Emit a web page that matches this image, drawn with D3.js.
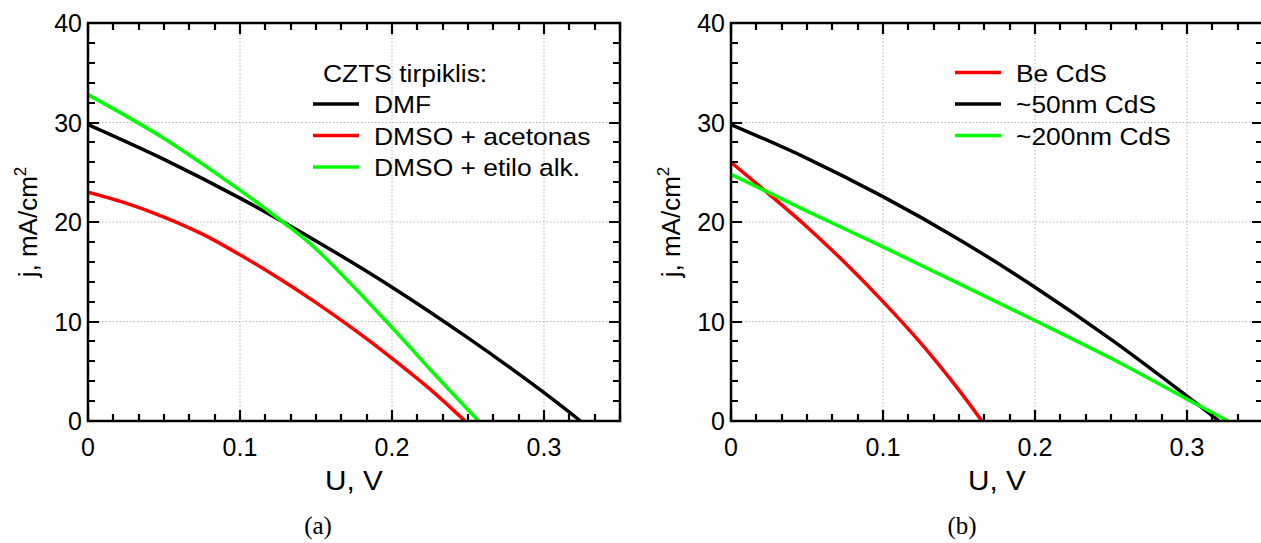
<!DOCTYPE html>
<html>
<head>
<meta charset="utf-8">
<script src="https://cdn.jsdelivr.net/npm/d3@7"></script>
<style>
  html, body { margin: 0; padding: 0; background: #fff; }
  svg { display: block; }
  text { font-family: "Liberation Sans", Arial, sans-serif; fill: #000; }
  .caption { font-family: "Liberation Serif", "Times New Roman", serif; }
</style>
</head>
<body>
<svg id="chart" width="1261" height="543"></svg>
<script>
// Current density j (mA/cm²) against voltage U (V)

// Panel (a): CZTS solvent
const voltsA_DMF  = [0, 0.05, 0.1, 0.15, 0.2, 0.25, 0.3, 0.324];
const currA_DMF   = [29.8, 26.3, 22.4, 18.1, 13.45, 8.35, 2.85, 0];
const voltsA_Acet = [0, 0.025, 0.05, 0.075, 0.1, 0.125, 0.15, 0.175, 0.2, 0.225, 0.248];
const currA_Acet  = [23.0, 21.9, 20.5, 18.8, 16.7, 14.4, 11.9, 9.2, 6.3, 3.2, 0];
const voltsA_Eth  = [0, 0.05, 0.1, 0.129, 0.15, 0.2, 0.225, 0.257];
const currA_Eth   = [32.8, 28.4, 23.2, 19.9, 17.3, 9.4, 5.2, 0];

// Panel (b): CdS layer
const voltsB_None = [0, 0.025, 0.05, 0.075, 0.1, 0.125, 0.15, 0.165];
const currB_None  = [26.0, 22.8, 19.5, 15.9, 12.0, 7.8, 3.1, 0];
const voltsB_50   = [0, 0.05, 0.1, 0.15, 0.2, 0.25, 0.3, 0.321];
const currB_50    = [29.8, 26.4, 22.55, 18.25, 13.45, 8.2, 2.5, 0];
const voltsB_200  = [0, 0.05, 0.1, 0.15, 0.2, 0.25, 0.3, 0.327];
const currB_200   = [24.8, 21.1, 17.5, 13.8, 10.1, 6.3, 2.2, 0];

const legendTitleA = "CZTS tirpiklis:";
const labelsA = ["DMF", "DMSO + acetonas", "DMSO + etilo alk."];
const labelsB = ["Be CdS", "~50nm CdS", "~200nm CdS"];

const xTicks = [0, 0.1, 0.2, 0.3];
const yTicks = [0, 10, 20, 30, 40];
const xMinorStep = 0.1 / 6;
const yMinorStep = 2;
const xDomain = [0, 0.35];
const yDomain = [0, 40];

const BLACK = "#000000", RED = "#ff0000", GREEN = "#00ff00";

const svg = d3.select("#chart");

function zip(xs, ys) { return xs.map((x, i) => ({ u: x, j: ys[i] })); }

function drawPanel(cfg) {
  const x = d3.scaleLinear().domain(xDomain).range([cfg.left, cfg.left + 532]);
  const y = d3.scaleLinear().domain(yDomain).range([421, 23]);
  const g = svg.append("g");
  const [x0, x1] = x.range();
  const [y0, y1] = y.range();

  // dotted grid at major ticks
  const grid = g.append("g").attr("stroke", "#b5b5b5").attr("stroke-width", 1)
    .attr("stroke-dasharray", "1.5,2");
  xTicks.filter(t => t > 0).forEach(t => {
    grid.append("line").attr("x1", x(t)).attr("x2", x(t)).attr("y1", y0).attr("y2", y1);
  });
  yTicks.filter(t => t > 0 && t < 40).forEach(t => {
    grid.append("line").attr("x1", x0).attr("x2", x1).attr("y1", y(t)).attr("y2", y(t));
  });

  // curves
  const line = d3.line().x(d => x(d.u)).y(d => y(d.j)).curve(d3.curveCatmullRom.alpha(0.5));
  const clipId = "clip" + cfg.id;
  g.append("clipPath").attr("id", clipId).append("rect")
    .attr("x", x0).attr("y", y1).attr("width", x1 - x0).attr("height", y0 - y1 + 2);
  const curves = g.append("g").attr("clip-path", `url(#${clipId})`);
  cfg.series.forEach(s => {
    curves.append("path").datum(zip(s.u, s.j)).attr("d", line)
      .attr("fill", "none").attr("stroke", s.color).attr("stroke-width", 3.5)
      .attr("stroke-linejoin", "round");
  });

  // frame
  g.append("rect").attr("x", x0).attr("y", y1).attr("width", x1 - x0).attr("height", y0 - y1)
    .attr("fill", "none").attr("stroke", "#000").attr("stroke-width", 2.5);

  // inward ticks on all four sides, drawn as one path
  const minorX = d3.range(0, xDomain[1] + 1e-9, xMinorStep);
  const minorY = d3.range(0, yDomain[1] + 1e-9, yMinorStep);
  const isMajorX = v => xTicks.some(t => Math.abs(t - v) < 1e-6);
  const isMajorY = v => yTicks.some(t => Math.abs(t - v) < 1e-6);
  const p = d3.path();
  minorX.forEach(v => {
    const len = isMajorX(v) ? 11 : 7;
    const px = Math.round(x(v));
    p.moveTo(px, y0); p.lineTo(px, y0 - len);
    p.moveTo(px, y1); p.lineTo(px, y1 + len);
  });
  minorY.forEach(v => {
    const len = isMajorY(v) ? 11 : 7;
    const py = Math.round(y(v));
    p.moveTo(x0, py); p.lineTo(x0 + len, py);
    p.moveTo(x1, py); p.lineTo(x1 - len, py);
  });
  g.append("path").attr("d", p.toString()).attr("fill", "none")
    .attr("stroke", "#000").attr("stroke-width", 2.2);

  // tick labels
  const fmtX = d => d === 0 ? "0" : d3.format(".1f")(d);
  g.append("g").selectAll("text").data(xTicks).join("text")
    .attr("x", d => x(d)).attr("y", y0 + 35).attr("text-anchor", "middle")
    .attr("font-size", 25).text(fmtX);
  g.append("g").selectAll("text").data(yTicks).join("text")
    .attr("x", x0 - 6).attr("y", d => y(d) + 9).attr("text-anchor", "end")
    .attr("font-size", 25).text(d3.format("d"));

  // axis titles
  g.append("text").attr("x", (x0 + x1) / 2).attr("y", 490).attr("text-anchor", "middle")
    .attr("font-size", 27).attr("transform", `translate(${(x0 + x1) / 2},0) scale(1.1,1) translate(${-(x0 + x1) / 2},0)`)
    .text("U, V");
  const yt = g.append("text").attr("transform", `translate(${x0 - 51},${(y0 + y1) / 2}) rotate(-90)`)
    .attr("text-anchor", "middle").attr("font-size", 26);
  yt.append("tspan").text("j, mA/cm");
  yt.append("tspan").attr("font-size", 17).attr("dy", -11).text("2");

  // caption
  svg.append("text").attr("class", "caption").attr("x", cfg.captionX).attr("y", 534)
    .attr("text-anchor", "middle").attr("font-size", 25).text(cfg.caption);

  // legend
  const lg = g.append("g");
  let rowY = cfg.legendTop;
  const addText = (tx, ty, str) => lg.append("text")
    .attr("transform", `translate(${tx},${ty}) scale(1.1,1)`).attr("font-size", 24).text(str);
  if (cfg.legendTitle) {
    addText(cfg.legendX + 10, rowY + 9, cfg.legendTitle);
    rowY += 31;
  }
  cfg.legend.forEach((l, i) => {
    const yy = rowY + i * 31.5;
    lg.append("line").attr("x1", cfg.legendX).attr("x2", cfg.legendX + 46)
      .attr("y1", yy).attr("y2", yy).attr("stroke", l.color).attr("stroke-width", 3.5);
    addText(cfg.legendX + 61, yy + 9, l.label);
  });
}

drawPanel({
  id: "a", left: 88, caption: "(a)", captionX: 318,
  series: [
    { u: voltsA_DMF, j: currA_DMF, color: BLACK },
    { u: voltsA_Acet, j: currA_Acet, color: RED },
    { u: voltsA_Eth, j: currA_Eth, color: GREEN }
  ],
  legendTitle: legendTitleA, legendX: 313, legendTop: 73,
  legend: [
    { label: labelsA[0], color: BLACK },
    { label: labelsA[1], color: RED },
    { label: labelsA[2], color: GREEN }
  ]
});

drawPanel({
  id: "b", left: 731, caption: "(b)", captionX: 962,
  series: [
    { u: voltsB_None, j: currB_None, color: RED },
    { u: voltsB_50, j: currB_50, color: BLACK },
    { u: voltsB_200, j: currB_200, color: GREEN }
  ],
  legendTitle: null, legendX: 955, legendTop: 72.5,
  legend: [
    { label: labelsB[0], color: RED },
    { label: labelsB[1], color: BLACK },
    { label: labelsB[2], color: GREEN }
  ]
});
</script>
</body>
</html>
